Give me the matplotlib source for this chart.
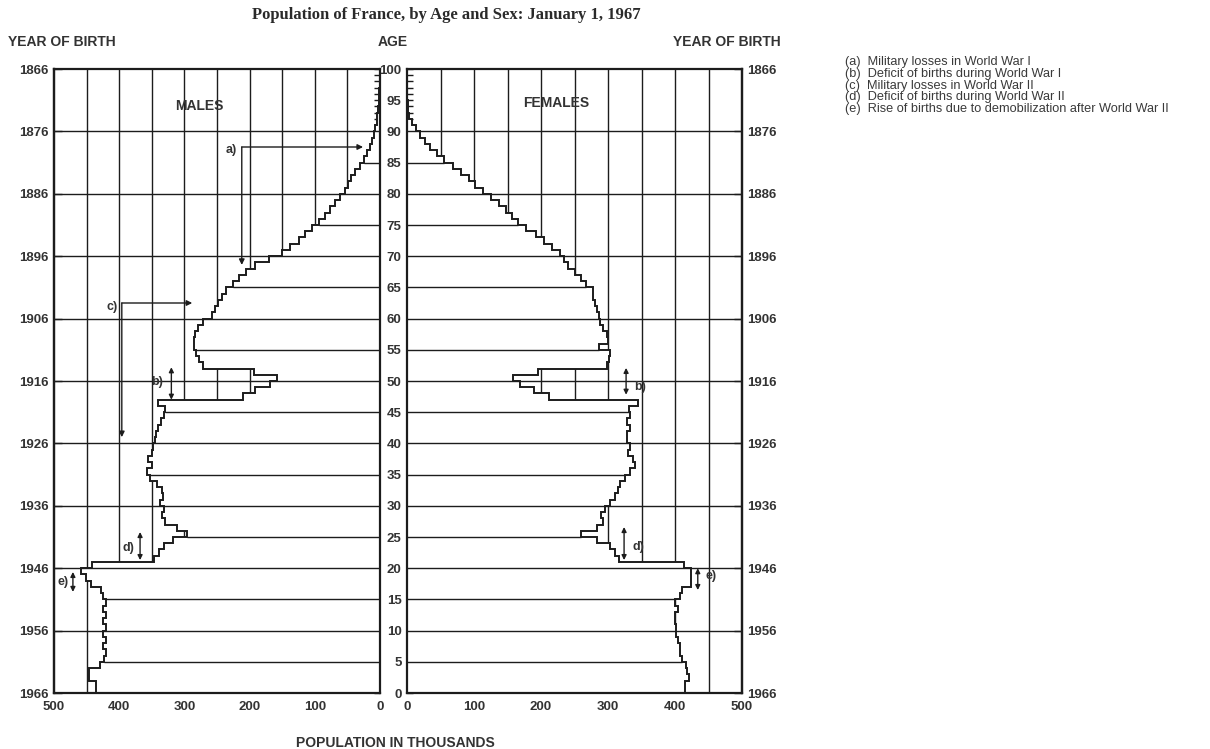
import numpy as np
import matplotlib.pyplot as plt

# single-year age groups, thousands of persons (France, 1 Jan 1967)
ages = np.arange(0, 100)
age_edges = np.arange(0, 101)

males = [436, 436, 446, 446, 430, 423, 421, 425, 421, 425,
         421, 425, 421, 425, 421, 425, 428, 443, 451, 458,
         441, 347, 339, 331, 318, 296, 312, 330, 335, 332,
         337, 333, 335, 342, 352, 357, 349, 356, 350, 348,
         345, 343, 340, 336, 332, 329, 341, 210, 191, 168,
         158, 194, 271, 277, 282, 285, 285, 283, 279, 272,
         258, 253, 248, 242, 236, 225, 216, 205, 192, 170,
         150, 138, 125, 115, 105, 93, 85, 77, 69, 61,
         54, 49, 44, 39, 31, 24, 20, 15, 12, 9,
         7, 5, 4, 3, 2, 1.5, 1, 0.6, 0.3, 0.1]

females = [415, 415, 421, 418, 416, 410, 408, 407, 404, 402,
           402, 400, 400, 404, 400, 408, 410, 424, 424, 424,
           413, 316, 310, 303, 283, 260, 283, 293, 290, 295,
           303, 310, 315, 318, 325, 333, 340, 338, 330, 333,
           328, 328, 333, 328, 333, 332, 345, 212, 189, 168,
           158, 195, 298, 302, 303, 287, 300, 298, 293, 288,
           286, 284, 281, 277, 277, 267, 260, 250, 241, 235,
           228, 216, 204, 192, 177, 165, 157, 148, 138, 126,
           114, 102, 92, 80, 68, 55, 45, 35, 27, 20,
           13, 7, 3, 1.5, 1, 0.6, 0.4, 0.2, 0.1, 0.1]

age_ticks = list(range(0, 101, 5))
decade_ticks = [0, 10, 20, 30, 40, 50, 60, 70, 80, 90, 100]
birth_years = [1966, 1956, 1946, 1936, 1926, 1916, 1906, 1896, 1886, 1876, 1866]
pop_ticks = [0, 100, 200, 300, 400, 500]
grid_pop = [50, 100, 150, 200, 250, 300, 350, 400, 450]
grid_age = [10, 20, 30, 40, 50, 60, 70, 80, 90]
inner_age = [5, 15, 25, 35, 45, 55, 65, 75, 85, 95]

notes = ["(a)  Military losses in World War I",
         "(b)  Deficit of births during World War I",
         "(c)  Military losses in World War II",
         "(d)  Deficit of births during World War II",
         "(e)  Rise of births due to demobilization after World War II"]

INK = '#1c1c1c'
TXT = '#333333'
SANS = ['Liberation Sans', 'DejaVu Sans']
SERIF = ['Liberation Serif', 'DejaVu Serif']

W, H = 1210, 749
fig = plt.figure(figsize=(W / 100, H / 100), dpi=100)
fig.patch.set_facecolor('white')


def px(x, y):
    return x / W, 1 - y / H


bottom, top = 693, 69
ax_m = fig.add_axes([54 / W, 1 - bottom / H, (380 - 54) / W, (bottom - top) / H])
ax_f = fig.add_axes([407 / W, 1 - bottom / H, (742 - 407) / W, (bottom - top) / H])


def draw_side(ax, values):
    ax.set_xlim(0, 500)
    ax.set_ylim(0, 100)
    for g in grid_pop:
        ax.axvline(g, color=INK, lw=1.0, zorder=1)
    ax.stairs(values, age_edges, orientation='horizontal', baseline=0,
              fill=True, color='white', lw=0, zorder=2)
    for g in grid_age:
        ax.axhline(g, color=INK, lw=1.0, zorder=3)
    # the odd five-year lines only run inside the pyramid
    for a in inner_age:
        w = min(values[a - 1], values[a])
        if w > 1:
            ax.hlines(a, 0, w, color=INK, lw=1.0, zorder=3)
    ax.stairs(values, age_edges, orientation='horizontal', baseline=None,
              color=INK, lw=1.4, zorder=4)
    for s in ax.spines.values():
        s.set_linewidth(1.6)
        s.set_color(INK)
    ax.set_xticks(pop_ticks)
    ax.set_xticklabels([str(p) for p in pop_ticks], family=SANS,
                       weight='bold', fontsize=9.5, color=TXT)
    ax.tick_params(axis='x', length=0, pad=6)


draw_side(ax_m, males)
draw_side(ax_f, females)
ax_m.invert_xaxis()

# age ticks on the centre strip
ax_m.yaxis.tick_right()
ax_m.set_yticks(age_ticks)
ax_m.set_yticks(age_edges, minor=True)
ax_m.tick_params(axis='y', which='both', direction='in', length=4.5, width=1,
                 color=INK, labelright=False, labelleft=False)

ax_f.set_yticks(age_ticks)
ax_f.set_yticklabels([str(a) for a in age_ticks], family=SANS,
                     weight='bold', fontsize=9.5, color=TXT)
ax_f.set_yticks(age_edges, minor=True)
ax_f.tick_params(axis='y', which='both', direction='in', length=4.5, width=1,
                 color=INK, pad=4)

# year of birth on the outer sides
for ax, side in ((ax_m, 'left'), (ax_f, 'right')):
    sec = ax.secondary_yaxis(side)
    sec.set_yticks(decade_ticks)
    sec.set_yticklabels([str(y) for y in birth_years], family=SANS,
                        weight='bold', fontsize=9.5, color=TXT)
    sec.tick_params(direction='in', length=6, width=1, color=INK, pad=4)
    sec.spines[side].set_linewidth(1.6)
    sec.spines[side].set_color(INK)

# annotation arrows
head = dict(arrowstyle='-|>', color=INK, lw=1.0, mutation_scale=8,
            shrinkA=0, shrinkB=0)
both = dict(arrowstyle='<|-|>', color=INK, lw=1.0, mutation_scale=7,
            shrinkA=0, shrinkB=0)
lab = dict(family=SANS, weight='bold', fontsize=9, color=TXT, va='center')

ax_m.annotate('', xy=(26, 87.5), xytext=(212, 87.5), arrowprops=head, zorder=6)
ax_m.annotate('', xy=(212, 68.6), xytext=(212, 87.5), arrowprops=head, zorder=6)
ax_m.text(219, 87.0, 'a)', ha='right', **lab)

ax_m.annotate('', xy=(288, 62.5), xytext=(396, 62.5), arrowprops=head, zorder=6)
ax_m.annotate('', xy=(396, 41.0), xytext=(396, 62.5), arrowprops=head, zorder=6)
ax_m.text(402, 61.9, 'c)', ha='right', **lab)

ax_m.annotate('', xy=(320, 52.2), xytext=(320, 47.0), arrowprops=both, zorder=6)
ax_m.text(333, 49.8, 'b)', ha='right', **lab)
ax_m.annotate('', xy=(368, 25.8), xytext=(368, 21.3), arrowprops=both, zorder=6)
ax_m.text(377, 23.2, 'd)', ha='right', **lab)
ax_m.annotate('', xy=(471, 19.4), xytext=(471, 16.2), arrowprops=both, zorder=6)
ax_m.text(478, 17.8, 'e)', ha='right', **lab)

ax_f.annotate('', xy=(327, 52.1), xytext=(327, 47.8), arrowprops=both, zorder=6)
ax_f.text(339, 49.0, 'b)', ha='left', **lab)
ax_f.annotate('', xy=(324, 26.6), xytext=(324, 21.3), arrowprops=both, zorder=6)
ax_f.text(336, 23.4, 'd)', ha='left', **lab)
ax_f.annotate('', xy=(434, 20.0), xytext=(434, 16.5), arrowprops=both, zorder=6)
ax_f.text(445, 18.75, 'e)', ha='left', **lab)

ax_m.text(0.445, 0.94, 'MALES', transform=ax_m.transAxes, ha='center',
          va='center', family=SANS, weight='bold', fontsize=10, color=TXT)
ax_f.text(0.445, 0.946, 'FEMALES', transform=ax_f.transAxes, ha='center',
          va='center', family=SANS, weight='bold', fontsize=10, color=TXT)

# headings
fig.text(*px(446, 15), 'Population of France, by Age and Sex: January 1, 1967',
         ha='center', va='center', family=SERIF, weight='bold', fontsize=12,
         color='#2a2a2a')
hd = dict(family=SANS, weight='bold', fontsize=10, color=TXT, va='center')
fig.text(*px(8, 42), 'YEAR OF BIRTH', ha='left', **hd)
fig.text(*px(393, 42), 'AGE', ha='center', **hd)
fig.text(*px(781, 42), 'YEAR OF BIRTH', ha='right', **hd)
fig.text(*px(395, 743), 'POPULATION IN THOUSANDS', ha='center', **hd)

for i, line in enumerate(notes):
    fig.text(*px(845, 62 + 11.8 * i), line, ha='left', va='center',
             family=SANS, fontsize=9.2, color='#3a3a3a')

fig.savefig('out.png', dpi=100, facecolor='white')
